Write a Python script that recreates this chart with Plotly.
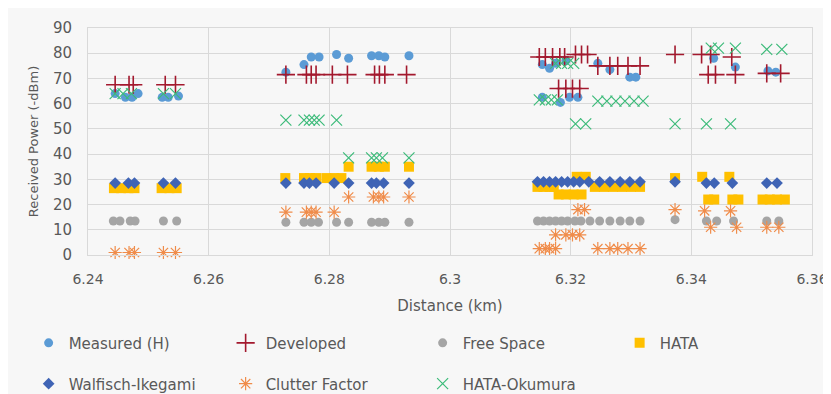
import plotly.graph_objects as go

# ---------------- data (distance in km, received power in -dBm) ----------------
measured_x = [6.2445, 6.2462, 6.2473, 6.2483, 6.2523, 6.2533, 6.2550,
              6.2728, 6.2758, 6.2770, 6.2783, 6.2812, 6.2832, 6.2870, 6.2882, 6.2892, 6.2932,
              6.3153, 6.3165, 6.3175, 6.3192, 6.3245, 6.3265, 6.3298, 6.3308,
              6.3153, 6.3183, 6.3198, 6.3212,
              6.3437, 6.3473, 6.3527, 6.3540]
measured_y = [64, 62.5, 62.5, 64, 62.5, 62.5, 63,
              72.5, 75.5, 78.5, 78.5, 79.5, 78, 79, 79, 78.5, 79,
              75.5, 74, 76, 77, 76, 73.5, 70.5, 70.5,
              62.5, 60.5, 62.5, 62.5,
              78, 74.5, 73, 72.5]

developed_x = [6.2445, 6.2468, 6.2475, 6.2528, 6.2545,
               6.2728, 6.2762, 6.2770, 6.2778, 6.2805, 6.2830, 6.2875, 6.2883, 6.2892, 6.2928,
               6.3148, 6.3158, 6.3170, 6.3182, 6.3190, 6.3208, 6.3218, 6.3228,
               6.3245, 6.3265, 6.3278, 6.3295, 6.3315,
               6.3180, 6.3192, 6.3203, 6.3215,
               6.3373,
               6.3417, 6.3432, 6.3467, 6.3428, 6.3440, 6.3473, 6.3525, 6.3548]
developed_y = [67.5, 67.5, 67.5, 67.5, 67.5,
               71.5, 71.5, 71.5, 71.5, 71.5, 71.5, 71.5, 71.5, 71.5, 71.5,
               78.5, 78.5, 78.5, 78.5, 78.5, 79.5, 79.5, 79.5,
               75, 75, 75, 75, 75,
               66, 66, 66, 66,
               79.5,
               79.5, 79.5, 78.5, 71.5, 71.5, 71.5, 72, 72]

freespace_x = [6.2442, 6.2453, 6.2470, 6.2478, 6.2525, 6.2547,
               6.2728, 6.2758, 6.2770, 6.2782, 6.2812, 6.2832, 6.2870, 6.2882, 6.2892, 6.2932,
               6.3145, 6.3155, 6.3165, 6.3175, 6.3185, 6.3195, 6.3207, 6.3217, 6.3232, 6.3248,
               6.3265, 6.3282, 6.3298, 6.3315,
               6.3373,
               6.3425, 6.3442, 6.3470, 6.3525, 6.3545]
freespace_y = [13.5, 13.5, 13.5, 13.5, 13.5, 13.5,
               13, 13, 13, 13, 13, 13, 13, 13, 13, 13,
               13.5, 13.5, 13.5, 13.5, 13.5, 13.5, 13.5, 13.5, 13.5, 13.5,
               13.5, 13.5, 13.5, 13.5,
               14,
               13.5, 13.5, 13.5, 13.5, 13.5]

hata_x = [6.2443, 6.2455, 6.2467, 6.2477, 6.2522, 6.2535, 6.2547,
          6.2727, 6.2758, 6.2768, 6.2778, 6.2795, 6.2808, 6.2820,
          6.2832, 6.2870, 6.2882, 6.2892, 6.2932,
          6.3145, 6.3155, 6.3165, 6.3172, 6.3240, 6.3255, 6.3270, 6.3285, 6.3300, 6.3315,
          6.3180, 6.3192, 6.3205, 6.3218,
          6.3210, 6.3225,
          6.3373,
          6.3418, 6.3463,
          6.3428, 6.3438, 6.3468, 6.3478, 6.3518, 6.3530, 6.3542, 6.3555]
hata_y = [26.5, 26.5, 26.5, 26.5, 26.5, 26.5, 26.5,
          30.5, 30.5, 30.5, 30.5, 30.5, 30.5, 30.5,
          35, 35, 35, 35, 35,
          27, 27, 27, 27, 27, 27, 27, 27, 27, 27,
          24, 24, 24, 24,
          31, 31,
          30.5,
          31, 31,
          22, 22, 22, 22, 22, 22, 22, 22]

walfisch_x = [6.2445, 6.2467, 6.2477, 6.2525, 6.2545,
              6.2728, 6.2758, 6.2767, 6.2778, 6.2808, 6.2832, 6.2870, 6.2878, 6.2890, 6.2932,
              6.3145, 6.3155, 6.3165, 6.3175, 6.3185, 6.3195, 6.3205, 6.3215, 6.3230, 6.3248,
              6.3265, 6.3282, 6.3298, 6.3315,
              6.3373,
              6.3425, 6.3438, 6.3468, 6.3525, 6.3542]
walfisch_y = [28.5, 28.5, 28.5, 28.5, 28.5,
              28.5, 28.5, 28.5, 28.5, 28.5, 28.5, 28.5, 28.5, 28.5, 28.5,
              29, 29, 29, 29, 29, 29, 29, 29, 29, 29,
              29, 29, 29, 29,
              29,
              28.5, 28.5, 28.5, 28.5, 28.5]

clutter_x = [6.2445, 6.2468, 6.2477, 6.2525, 6.2545,
             6.2728, 6.2762, 6.2770, 6.2778, 6.2808,
             6.2832, 6.2873, 6.2882, 6.2890, 6.2932,
             6.3148, 6.3158, 6.3165, 6.3175, 6.3245, 6.3265, 6.3278, 6.3295, 6.3315,
             6.3175, 6.3192, 6.3203, 6.3215,
             6.3212, 6.3223,
             6.3373,
             6.3422, 6.3465, 6.3432, 6.3475, 6.3525, 6.3545]
clutter_y = [1, 1, 1, 1, 1,
             17, 17, 17, 17, 17,
             23, 23, 23, 23, 23,
             2.5, 2.5, 2.5, 2.5, 2.5, 2.5, 2.5, 2.5, 2.5,
             8, 8, 8, 8,
             18, 18,
             18,
             17.5, 17.5, 11, 11, 11, 11]

okumura_x = [6.2445, 6.2458, 6.2472, 6.2525, 6.2545,
             6.2728, 6.2758, 6.2767, 6.2775, 6.2783, 6.2812,
             6.2832, 6.2870, 6.2878, 6.2888, 6.2932,
             6.3175, 6.3185, 6.3195, 6.3205,
             6.3148, 6.3158, 6.3168, 6.3178,
             6.3245, 6.3260, 6.3275, 6.3290, 6.3305, 6.3320,
             6.3208, 6.3225,
             6.3373,
             6.3425, 6.3465,
             6.3433, 6.3445, 6.3473, 6.3525, 6.3550]
okumura_y = [64, 64, 64, 64, 64,
             53.5, 53.5, 53.5, 53.5, 53.5, 53.5,
             38.5, 38.5, 38.5, 38.5, 38.5,
             76, 76, 76, 76,
             61.5, 61.5, 61.5, 61.5,
             61, 61, 61, 61, 61, 61,
             52, 52,
             52,
             52, 52,
             82, 82, 82, 81.5, 81.5]

x_ticks = [6.24, 6.26, 6.28, 6.30, 6.32, 6.34, 6.36]
x_tick_labels = ["6.24", "6.26", "6.28", "6.3", "6.32", "6.34", "6.36"]
y_ticks = [0, 10, 20, 30, 40, 50, 60, 70, 80, 90]

# ---------------- figure ----------------
TXT = "#595959"
GRID = "#D9D9D9"
FONT = "DejaVu Sans"

fig = go.Figure()

series = [
    ("Measured (H)", measured_x, measured_y,
     dict(symbol="circle", size=9, color="#5B9BD5"), "legend"),
    ("Developed", developed_x, developed_y,
     dict(symbol="cross-thin", size=13, color="#A3192E", line=dict(color="#A3192E", width=1.6)), "legend"),
    ("Free Space", freespace_x, freespace_y,
     dict(symbol="circle", size=9, color="#A5A5A5"), "legend"),
    ("HATA", hata_x, hata_y,
     dict(symbol="square", size=10, color="#FFC000"), "legend"),
    ("Walfisch-Ikegami", walfisch_x, walfisch_y,
     dict(symbol="diamond", size=9, color="#3F64B5"), "legend2"),
    ("Clutter Factor", clutter_x, clutter_y,
     dict(symbol="asterisk-open", size=11, color="#F08C4A", line=dict(color="#F08C4A", width=1.2)), "legend2"),
    ("HATA-Okumura", okumura_x, okumura_y,
     dict(symbol="x-thin-open", size=11, color="#3DBB7A", line=dict(color="#3DBB7A", width=1.2)), "legend2"),
]

for name, xs, ys, mk, lg in series:
    fig.add_trace(go.Scatter(x=xs, y=ys, mode="markers", name=name,
                             marker=mk, legend=lg, cliponaxis=False))

legend_common = dict(orientation="h", xanchor="left", yanchor="middle",
                     x=-0.082, entrywidth=152, entrywidthmode="pixels",
                     font=dict(family=FONT, size=15, color=TXT),
                     bgcolor="rgba(0,0,0,0)", borderwidth=0)

# page body has an 8px margin, so the figure is 8px smaller than the window
fig.update_layout(
    width=823, height=386,
    margin=dict(l=80, r=19, t=20, b=139, autoexpand=False),
    paper_bgcolor="#F7F7F7", plot_bgcolor="#F7F7F7",
    font=dict(family=FONT, color=TXT),
    legend=dict(legend_common, y=-0.388),
    legend2=dict(legend_common, y=-0.568),
    xaxis=dict(range=[6.24, 6.36], tickvals=x_ticks, ticktext=x_tick_labels,
               showgrid=True, gridcolor=GRID, gridwidth=1, zeroline=False,
               showline=True, linecolor=GRID, mirror=True,
               tickfont=dict(family=FONT, size=14, color=TXT), ticklabelstandoff=11,
               title=dict(text="Distance (km)", font=dict(family=FONT, size=15, color=TXT), standoff=14)),
    yaxis=dict(range=[0, 90], tickvals=y_ticks,
               showgrid=True, gridcolor=GRID, gridwidth=1, zeroline=False,
               showline=True, linecolor=GRID, mirror=True,
               tickfont=dict(family=FONT, size=15, color=TXT), ticklabelstandoff=12,
               title=dict(text="Received Power (-dBm)", font=dict(family=FONT, size=13, color=TXT), standoff=11)),
)

fig.write_html("out.html")
